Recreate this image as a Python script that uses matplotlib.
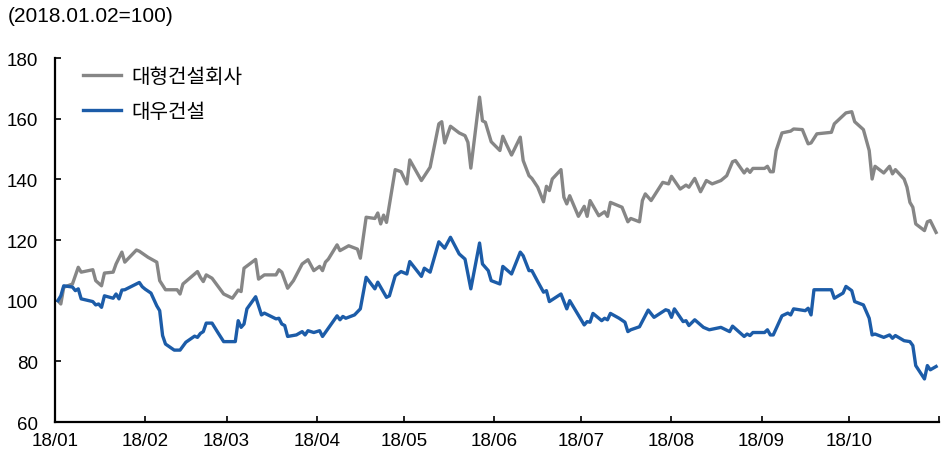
import matplotlib
matplotlib.use('Agg')
import matplotlib.pyplot as plt
import pandas as pd

# 대형건설회사 (grey) and 대우건설 (blue), 2018.01.02 = 100
gray_dates = ['01-02', '01-03', '01-04', '01-07', '01-09', '01-10', '01-14', '01-15', '01-17', '01-18',
              '01-21', '01-22', '01-24', '01-25', '01-29', '01-30', '02-02', '02-05', '02-06', '02-08',
              '02-12', '02-13', '02-14', '02-19', '02-20', '02-21', '02-22', '02-24', '02-28', '03-03',
              '03-05', '03-06', '03-07', '03-11', '03-12', '03-14', '03-18', '03-19', '03-20', '03-22',
              '03-24', '03-27', '03-29', '03-31', '04-02', '04-03', '04-04', '04-05', '04-08', '04-09',
              '04-12', '04-15', '04-16', '04-18', '04-21', '04-22', '04-23', '04-24', '04-25', '04-28',
              '04-30', '05-02', '05-03', '05-07', '05-10', '05-13', '05-14', '05-15', '05-17', '05-20',
              '05-22', '05-23', '05-24', '05-27', '05-28', '05-29', '05-31', '06-03', '06-04', '06-05',
              '06-07', '06-10', '06-11', '06-13', '06-14', '06-16', '06-18', '06-19', '06-20', '06-21',
              '06-24', '06-25', '06-26', '06-27', '06-30', '07-02', '07-03', '07-04', '07-07', '07-09',
              '07-10', '07-11', '07-15', '07-17', '07-18', '07-21', '07-22', '07-23', '07-25', '07-29',
              '07-31', '08-01', '08-04', '08-06', '08-07', '08-09', '08-11', '08-13', '08-15', '08-18',
              '08-20', '08-22', '08-23', '08-26', '08-27', '08-28', '08-29', '09-02', '09-03', '09-04',
              '09-05', '09-06', '09-08', '09-11', '09-12', '09-15', '09-17', '09-18', '09-20', '09-25',
              '09-26', '09-30', '10-02', '10-03', '10-06', '10-08', '10-09', '10-10', '10-13', '10-15',
              '10-16', '10-17', '10-20', '10-21', '10-22', '10-23', '10-24', '10-27', '10-28', '10-29',
              '10-31']
gray_vals = [100, 98.9, 104.4, 105.5, 111, 109.4, 110.2, 106.6, 104.9, 109.1,
             109.4, 112.1, 116, 112.7, 116.7, 116.3, 114.3, 112.7, 106.6, 103.6,
             103.6, 102.2, 105.5, 109.6, 107.7, 106.3, 108.5, 107.4, 102.2, 100.8,
             103.5, 103, 110.7, 113.6, 107.1, 108.5, 108.5, 110.2, 109.4, 104.1,
             106.6, 112.1, 113.5, 109.9, 111.3, 109.9, 112.7, 113.7, 118.4, 116.5,
             118.1, 117, 114, 127.5, 127.1, 128.9, 125.3, 128.2, 125.8, 143.2,
             142.5, 138.5, 146.4, 139.6, 144, 158.3, 159, 152, 157.5, 155.3,
             154.4, 152.2, 143.7, 167.1, 159.3, 158.8, 152.4, 149.5, 154.2, 152,
             148, 153.9, 146.2, 141.2, 140.3, 137.4, 132.6, 137.7, 136.3, 140.1,
             143.2, 134.1, 131.9, 134.6, 127.8, 131.1, 127.8, 133, 128, 129.3,
             127.8, 132.4, 130.8, 126, 127.1, 126, 133, 135.2, 133, 139,
             138.5, 141, 136.8, 138.1, 137.4, 140.3, 135.9, 139.6, 138.5, 139.6,
             141.2, 145.8, 146.2, 142.1, 143.4, 142.3, 143.6, 143.6, 144.3, 142.5,
             142.5, 149.5, 155.3, 155.9, 156.6, 156.4, 151.7, 152, 155, 155.5,
             158.3, 161.9, 162.3, 159, 156.4, 149.5, 140.1, 144.3, 142.1, 144.3,
             141.8, 143.2, 140.1, 137.4, 132.4, 130.8, 125.3, 123.1, 126, 126.4,
             122.5]

blue_dates = ['01-02', '01-03', '01-04', '01-07', '01-08', '01-09', '01-10', '01-14', '01-15', '01-16',
              '01-17', '01-18', '01-21', '01-22', '01-23', '01-24', '01-25', '01-29', '01-30', '01-31',
              '02-01', '02-03', '02-05', '02-06', '02-07', '02-08', '02-11', '02-13', '02-15', '02-18',
              '02-19', '02-20', '02-21', '02-22', '02-24', '02-26', '02-28', '03-04', '03-05', '03-06',
              '03-07', '03-08', '03-11', '03-13', '03-14', '03-18', '03-19', '03-20', '03-21', '03-22',
              '03-25', '03-27', '03-28', '03-29', '03-31', '04-02', '04-03', '04-05', '04-08', '04-09',
              '04-10', '04-11', '04-14', '04-16', '04-18', '04-21', '04-22', '04-25', '04-26', '04-28',
              '04-30', '05-02', '05-03', '05-07', '05-08', '05-10', '05-13', '05-15', '05-17', '05-20',
              '05-22', '05-24', '05-27', '05-28', '05-30', '05-31', '06-03', '06-04', '06-07', '06-10',
              '06-11', '06-13', '06-14', '06-16', '06-18', '06-19', '06-20', '06-24', '06-26', '06-27',
              '07-02', '07-03', '07-04', '07-05', '07-08', '07-09', '07-10', '07-11', '07-14', '07-16',
              '07-17', '07-18', '07-21', '07-24', '07-26', '07-30', '07-31', '08-01', '08-02', '08-05',
              '08-06', '08-07', '08-09', '08-12', '08-14', '08-18', '08-21', '08-22', '08-26', '08-27',
              '08-28', '08-29', '09-02', '09-03', '09-04', '09-05', '09-08', '09-10', '09-11', '09-12',
              '09-16', '09-17', '09-18', '09-19', '09-25', '09-26', '09-29', '09-30', '10-02', '10-03',
              '10-06', '10-08', '10-09', '10-10', '10-13', '10-15', '10-16', '10-17', '10-20', '10-22',
              '10-23', '10-24', '10-27', '10-28', '10-29', '10-31']
blue_vals = [100, 101.6, 104.9, 104.5, 103.3, 103.9, 100.6, 99.7, 98.6, 98.9,
             97.8, 101.6, 100.8, 102.2, 100.6, 103.5, 103.6, 105.5, 106, 104.6,
             103.8, 102.5, 98.3, 96.7, 88.5, 85.7, 83.7, 83.7, 86.3, 88.3,
             87.9, 89.2, 89.8, 92.6, 92.6, 89.5, 86.5, 86.5, 93.4, 91.2,
             92.3, 97.3, 101.3, 95.3, 95.9, 94, 94.2, 92.3, 91.8, 88.2,
             88.7, 89.8, 88.7, 90.1, 89.5, 90.1, 88.2, 90.9, 95, 93.7,
             94.8, 94.2, 95.3, 97.3, 107.7, 103.9, 106.1, 101.1, 101.6, 108.2,
             109.6, 108.8, 112.9, 108, 110.7, 109.4, 119.4, 117.3, 120.9, 115.4,
             113.7, 103.9, 119, 112.1, 109.9, 106.6, 105.5, 111.3, 108.8, 116,
             114.8, 109.9, 109.9, 106.3, 102.8, 103.3, 99.7, 102.2, 97.3, 100,
             92, 93.1, 92.9, 95.8, 93.4, 94.2, 93.7, 95.8, 94.2, 92.9,
             89.8, 90.4, 91.4, 96.9, 94.5, 97, 96.7, 94.5, 97.3, 93.1,
             93.4, 91.8, 93.7, 91.2, 90.4, 91.2, 89.8, 91.6, 88.2, 89,
             88.5, 89.5, 89.5, 90.4, 88.7, 88.7, 95, 95.9, 95.3, 97.3,
             96.7, 97.5, 95.3, 103.6, 103.6, 100.8, 102.5, 104.7, 103.3, 99.7,
             98.6, 94.2, 88.7, 89, 87.9, 88.7, 87.6, 88.5, 86.8, 86.5,
             85.2, 78.6, 74.2, 78.6, 77.2, 78.3]

month_ticks = ['2018-%02d-01' % m for m in range(1, 12)]
month_labels = ['18/%02d' % m for m in range(1, 11)] + ['']


def main():
    plt.rcParams['font.family'] = ['Liberation Sans', 'Noto Sans CJK KR', 'DejaVu Sans']

    gx = pd.to_datetime(['2018-' + d for d in gray_dates])
    bx = pd.to_datetime(['2018-' + d for d in blue_dates])

    fig = plt.figure(figsize=(9.48, 4.6), dpi=100)
    ax = fig.add_axes([55 / 948, 1 - 423 / 460, (939 - 55) / 948, (423 - 59) / 460])

    ax.plot(gx, gray_vals, color='#868686', lw=2.4, label='대형건설회사')
    ax.plot(bx, blue_vals, color='#1c5ca8', lw=2.4, label='대우건설')

    ax.set_xlim(pd.Timestamp('2018-01-01'), pd.Timestamp('2018-11-01'))
    ax.set_ylim(60, 180)
    ax.set_yticks(range(60, 181, 20))
    ax.set_xticks(pd.to_datetime(month_ticks))
    ax.set_xticklabels(month_labels)

    for s in ['top', 'right']:
        ax.spines[s].set_visible(False)
    for s in ['left', 'bottom']:
        ax.spines[s].set_linewidth(1.6)
    ax.tick_params(axis='both', direction='in', length=4, width=1.2, labelsize=13.5)
    ax.tick_params(axis='y', pad=12)
    ax.tick_params(axis='x', pad=7)

    ax.legend(loc='upper left', bbox_to_anchor=(0.0315, 0.979), frameon=False,
              borderpad=0, borderaxespad=0, handlelength=1.9, handletextpad=0.5,
              labelspacing=0.72, prop={'family': 'Noto Sans CJK KR', 'size': 14.5})

    fig.text(8 / 948, 1 - 16 / 460, '(2018.01.02=100)', va='center', ha='left', fontsize=15)

    fig.savefig('out.png', dpi=100)


if __name__ == '__main__':
    main()
